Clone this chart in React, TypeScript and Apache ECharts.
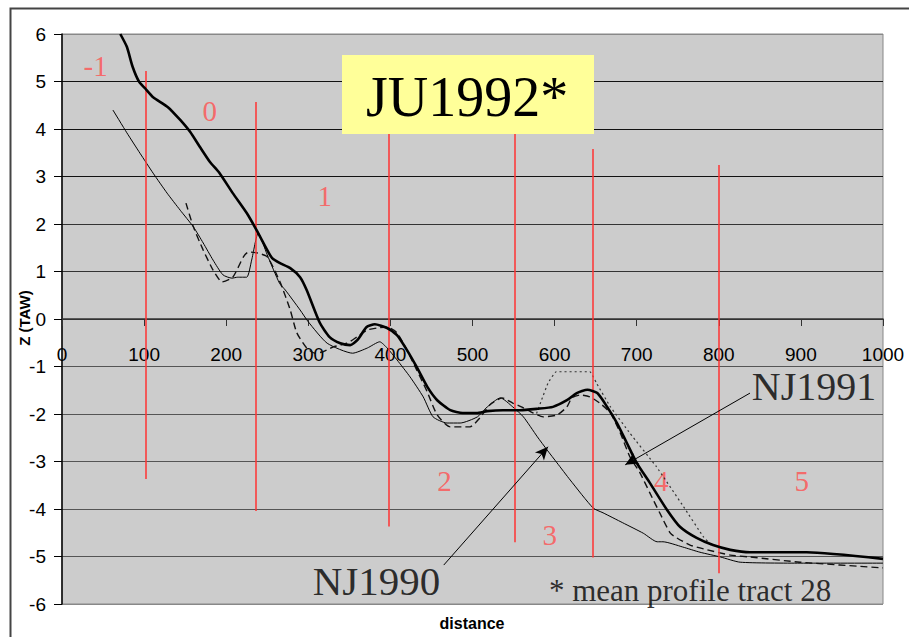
import React, { useEffect, useRef } from "react";
import * as echarts from "echarts";

// Beach profiles: distance (m) vs elevation Z (m TAW)
const ju1992: [number, number][] = [
  [71, 6.0], [79, 5.73], [86, 5.31], [94, 4.99], [101, 4.86], [111, 4.67], [129, 4.46],
  [144, 4.19], [156, 3.94], [168, 3.62], [180, 3.31], [192, 3.07], [208, 2.65], [225, 2.23],
  [237, 1.87], [250, 1.45], [256, 1.28], [265, 1.18], [278, 1.07], [290, 0.88], [298, 0.61],
  [314, -0.08], [326, -0.38], [339, -0.51], [351, -0.55], [360, -0.44], [371, -0.17],
  [381, -0.11], [396, -0.19], [408, -0.34], [420, -0.65], [432, -1.01], [445, -1.43],
  [457, -1.71], [473, -1.92], [488, -1.98], [505, -1.98], [518, -1.94], [537, -1.92],
  [558, -1.92], [579, -1.89], [598, -1.85], [615, -1.71], [627, -1.56], [640, -1.49],
  [652, -1.56], [664, -1.85], [676, -2.19], [688, -2.61], [700, -3.03], [716, -3.45],
  [737, -4.02], [753, -4.38], [773, -4.61], [793, -4.76], [814, -4.86], [838, -4.91],
  [907, -4.91], [1000, -5.05],
];

const nj1990: [number, number][] = [
  [62, 4.4], [79, 3.92], [95, 3.49], [111, 3.07], [128, 2.65], [144, 2.29], [160, 1.94],
  [172, 1.6], [184, 1.24], [196, 0.93], [207, 0.86], [214, 0.88], [225, 0.88], [231, 1.24],
  [239, 1.81], [250, 1.35], [265, 0.75], [272, 0.61], [290, 0.19], [300, -0.06],
  [323, -0.51], [354, -0.72], [372, -0.61], [387, -0.48], [396, -0.61], [408, -0.86],
  [424, -1.22], [440, -1.64], [452, -2.06], [469, -2.19], [485, -2.19], [506, -2.06],
  [518, -1.85], [534, -1.66], [549, -1.85], [562, -2.06], [579, -2.48], [591, -2.76],
  [603, -3.03], [619, -3.39], [647, -3.98], [659, -4.08], [683, -4.29], [708, -4.51],
  [725, -4.69], [732, -4.69], [756, -4.8], [777, -4.91], [802, -5.01], [826, -5.12],
  [899, -5.14], [1000, -5.14],
];

const nj1991: [number, number][] = [
  [151, 2.44], [160, 1.94], [172, 1.45], [184, 1.03], [195, 0.78], [208, 0.88], [221, 1.31],
  [227, 1.41], [238, 1.39], [250, 1.31], [266, 0.76], [278, 0.19], [286, -0.29],
  [298, -0.61], [308, -0.72], [318, -0.69], [330, -0.59], [347, -0.51], [359, -0.38],
  [372, -0.23], [384, -0.19], [396, -0.17], [408, -0.29], [420, -0.65], [432, -1.07],
  [445, -1.54], [457, -2.02], [473, -2.27], [497, -2.27], [509, -2.08], [521, -1.81],
  [536, -1.66], [549, -1.77], [562, -1.87], [574, -1.98], [586, -2.06], [603, -2.02],
  [615, -1.85], [621, -1.66], [631, -1.6], [643, -1.64], [655, -1.77], [668, -1.98],
  [680, -2.4], [692, -2.91], [704, -3.24], [716, -3.66], [728, -4.08], [741, -4.51],
  [749, -4.61], [765, -4.76], [786, -4.86], [814, -4.97], [838, -5.01], [899, -5.12],
  [1000, -5.24],
];

const barSurvey: [number, number][] = [
  [578, -1.99], [584, -1.71], [592, -1.35], [602, -1.11], [643, -1.11], [651, -1.35],
  [668, -1.85], [692, -2.41], [724, -3.11], [757, -3.95], [781, -4.58], [791, -4.76],
];

// Zone boundaries (distance) with the vertical extent of each marker line
const zoneX = [17, 102, 236, 398, 551, 647, 800];
const zoneTop = [6.05, 5.22, 4.57, 4.23, 3.91, 3.58, 3.24];
const zoneBottom = [-2.55, -3.37, -4.04, -4.37, -4.7, -5.02, -5.35];

// Zone numbers and where they are written
const zoneNames = ["-1", "0", "1", "2", "3", "4", "5"];
const zoneLabelPos: [number, number][] = [
  [41, 5.33], [180, 4.38], [320, 2.59], [466, -3.41], [594, -4.55], [730, -3.41], [901, -3.41],
];

// Annotation texts and their arrows
const noteTexts = ["NJ1990", "NJ1991", "* mean profile tract 28"];
const notePos: [number, number][] = [[383, -5.52], [916, -1.43], [765, -5.71]];
const noteSizes = [41, 40, 31];
const arrowFrom: [number, number][] = [[465, -5.18], [838, -1.56]];
const arrowTo: [number, number][] = [[592, -2.69], [686, -3.07]];

const yTicks = [-6, -5, -4, -3, -2, -1, 0, 1, 2, 3, 4, 5, 6];
const gridColors = ["#888", "#555", "#555", "#555", "#555", "#555", "#333", "#333", "#333", "#111", "#111", "#111", "#888"];

const SANS = "'Liberation Sans', Arial, sans-serif";
const SERIF = "'Liberation Serif', 'Times New Roman', serif";

const GRID_TOP = 34;
const GRID_BOTTOM = 33;
const GRID_HEIGHT = 637 - GRID_TOP - GRID_BOTTOM;

export default function App() {
  const ref = useRef<HTMLDivElement>(null);

  useEffect(() => {
    if (!ref.current) return;
    const chart = echarts.init(ref.current, undefined, { renderer: "svg" });

    const yMin = yTicks[0];
    const yMax = yTicks[yTicks.length - 1];
    // lift the distance axis up to the Z = 0 level
    const zeroOffset = -GRID_HEIGHT * (0 - yMin) / (yMax - yMin);

    chart.setOption({
      animation: false,
      backgroundColor: "#ffffff",
      grid: {
        left: 62,
        right: 26,
        top: GRID_TOP,
        bottom: GRID_BOTTOM,
        outerBoundsMode: "none",
        containLabel: false,
        show: true,
        backgroundColor: "#cccccc",
        borderColor: "#888888",
        borderWidth: 1,
      },
      xAxis: {
        type: "value",
        position: "bottom",
        offset: zeroOffset,
        min: 0,
        max: 1000,
        interval: 100,
        axisLine: { onZero: false, lineStyle: { color: "#333", width: 1.5 } },
        axisTick: { show: true, length: 7, lineStyle: { color: "#333" } },
        axisLabel: {
          color: "#000",
          fontFamily: SANS,
          fontSize: 19,
          margin: 26,
          formatter: (v: number) => String(v),
        },
        splitLine: { show: false },
      },
      yAxis: {
        type: "value",
        min: yMin,
        max: yMax,
        interval: 1,
        axisLine: { show: true, onZero: false, lineStyle: { color: "#000", width: 1.5 } },
        axisTick: { show: true, length: 8, lineStyle: { color: "#000" } },
        axisLabel: { color: "#000", fontFamily: SANS, fontSize: 19, margin: 16 },
        splitLine: { show: true, lineStyle: { color: gridColors, width: 1.2 } },
      },
      series: [
        {
          name: "JU1992",
          type: "line",
          data: ju1992,
          showSymbol: false,
          smooth: 0.2,
          lineStyle: { color: "#000", width: 2.6 },
          z: 5,
        },
        {
          name: "NJ1990",
          type: "line",
          data: nj1990,
          showSymbol: false,
          smooth: 0.2,
          lineStyle: { color: "#000", width: 1 },
          z: 4,
        },
        {
          name: "NJ1991",
          type: "line",
          data: nj1991,
          showSymbol: false,
          smooth: 0.2,
          lineStyle: { color: "#111", width: 1.4, type: [7, 4] },
          z: 4,
        },
        {
          name: "bar",
          type: "line",
          data: barSurvey,
          showSymbol: false,
          smooth: 0.1,
          lineStyle: { color: "#333", width: 1.2, type: [2, 3] },
          z: 3,
        },
        {
          name: "zones",
          type: "scatter",
          symbolSize: 0,
          silent: true,
          data: zoneLabelPos.map((p, i) => ({ value: p, name: zoneNames[i] })),
          label: {
            show: true,
            position: "inside",
            formatter: (p: any) => p.name,
            color: "#ff5050",
            fontFamily: SERIF,
            fontSize: 29,
          },
          markLine: {
            silent: true,
            symbol: "none",
            label: { show: false },
            lineStyle: { color: "#ff3333", width: 1.5, type: "solid" },
            data: zoneX.map((x, i) => [
              { coord: [x, zoneTop[i]] },
              { coord: [x, zoneBottom[i]] },
            ]),
          },
          z: 2,
        },
        {
          name: "notes",
          type: "scatter",
          symbolSize: 0,
          silent: true,
          data: notePos.map((p, i) => ({
            value: p,
            name: noteTexts[i],
            label: { fontSize: noteSizes[i] },
          })),
          label: {
            show: true,
            position: "inside",
            formatter: (p: any) => p.name,
            color: "#000",
            fontFamily: SERIF,
          },
          markLine: {
            silent: true,
            symbol: ["none", "arrow"],
            symbolSize: [9, 13],
            label: { show: false },
            lineStyle: { color: "#000", width: 1, type: "solid" },
            data: arrowFrom.map((a, i) => [{ coord: a }, { coord: arrowTo[i] }]),
          },
          z: 6,
        },
      ],
      graphic: [
        {
          type: "rect",
          left: 8,
          top: 6,
          shape: { width: 920, height: 660 },
          style: { fill: "none", stroke: "#444", lineWidth: 2 },
          silent: true,
          z: 100,
        },
        {
          type: "rect",
          shape: { x: 342, y: 55, width: 252, height: 79 },
          style: { fill: "#ffff99" },
          z: 50,
        },
        {
          type: "text",
          x: 467,
          y: 97,
          style: {
            text: "JU1992*",
            font: `56px ${SERIF}`,
            fill: "#000",
            align: "center",
            verticalAlign: "middle",
          },
          z: 51,
        },
        {
          type: "text",
          x: 24,
          y: 318,
          rotation: Math.PI / 2,
          style: {
            text: "Z (TAW)",
            font: `bold 15px ${SANS}`,
            fill: "#000",
            align: "center",
            verticalAlign: "middle",
          },
        },
        {
          type: "text",
          x: 472,
          y: 623,
          style: {
            text: "distance",
            font: `bold 16px ${SANS}`,
            fill: "#000",
            align: "center",
            verticalAlign: "middle",
          },
        },
      ],
    });

    return () => chart.dispose();
  }, []);

  return <div ref={ref} style={{ width: 909, height: 637, position: "absolute", left: 0, top: 0 }} />;
}
